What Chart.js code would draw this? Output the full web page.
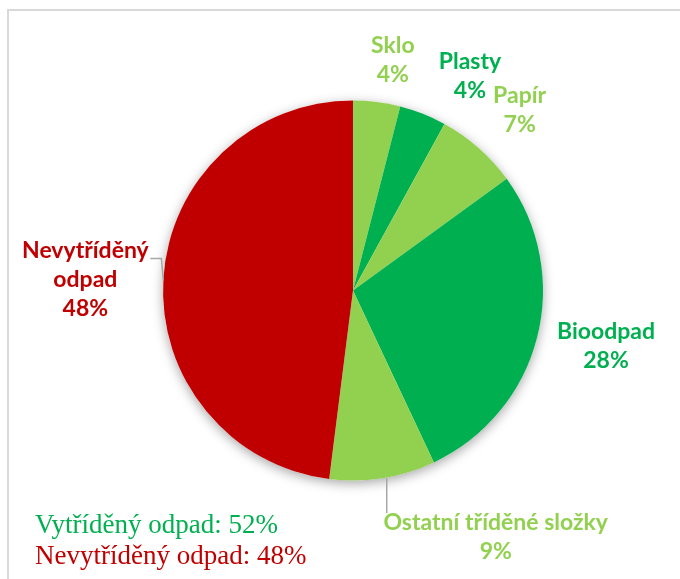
<!DOCTYPE html>
<html>
<head>
<meta charset="utf-8">
<script src="https://cdn.jsdelivr.net/npm/chart.js@4/dist/chart.umd.min.js"></script>
<style>
  html, body { margin: 0; padding: 0; background: #ffffff; }
  #wrap { position: relative; width: 680px; height: 579px; overflow: hidden; }
  #frame { position: absolute; left: 7px; top: 9px; width: 700px; height: 600px;
           border-left: 2px solid #d9d9d9; border-top: 2px solid #d9d9d9; box-sizing: border-box; }
  canvas { position: absolute; left: 0; top: 0; }
</style>
</head>
<body>
<div id="wrap">
  <div id="frame"></div>
  <canvas id="c" width="680" height="579"></canvas>
</div>
<script>
// ---- data ----
const categories = ['Sklo', 'Plasty', 'Papír', 'Bioodpad', 'Ostatní tříděné složky', 'Nevytříděný odpad'];
const shares = [4, 4, 7, 28, 9, 48];
const labelLines = [['Sklo'], ['Plasty'], ['Papír'], ['Bioodpad'], ['Ostatní tříděné složky'], ['Nevytříděný', 'odpad']];
const summaryLabels = ['Vytříděný odpad', 'Nevytříděný odpad'];
const summaryValues = [52, 48];

// ---- styles ----
const LIGHT = '#92D050', GREEN = '#00B050', RED = '#C00000';
const sliceColors = [LIGHT, GREEN, LIGHT, GREEN, LIGHT, RED];
const summaryColors = [GREEN, RED];
// label centre offsets from the outer mid-point of each slice
const labelOffsets = [[16, -42], [47, -38], [41, -38], [69, 8], [113, 59], [-78, 1]];
// leader polylines, offsets from the outer mid-point
const leaders = [null, null, null, null, [[4, 0], [4, 35]], [[0, 2], [-2, -20], [-13, -20]]];

const shadowPlugin = {
  id: 'pieShadow',
  beforeDatasetsDraw(chart) {
    const arc = chart.getDatasetMeta(0).data[0];
    if (!arc) return;
    const ctx = chart.ctx;
    ctx.save();
    ctx.shadowColor = 'rgba(0,0,0,0.35)';
    ctx.shadowBlur = 12;
    ctx.shadowOffsetY = 3;
    ctx.fillStyle = '#ffffff';
    ctx.beginPath();
    ctx.arc(arc.x, arc.y, arc.outerRadius, 0, Math.PI * 2);
    ctx.fill();
    ctx.restore();
  }
};

const labelPlugin = {
  id: 'sliceLabels',
  afterDatasetsDraw(chart) {
    const ctx = chart.ctx;
    const meta = chart.getDatasetMeta(0);
    const lineH = 29;
    ctx.save();
    meta.data.forEach((arc, i) => {
      const mid = (arc.startAngle + arc.endAngle) / 2;
      const ex = arc.x + Math.cos(mid) * arc.outerRadius;
      const ey = arc.y + Math.sin(mid) * arc.outerRadius;
      if (leaders[i]) {
        ctx.strokeStyle = '#a6a6a6';
        ctx.lineWidth = 1.5;
        ctx.beginPath();
        leaders[i].forEach((p, k) => {
          if (k === 0) ctx.moveTo(ex + p[0], ey + p[1]); else ctx.lineTo(ex + p[0], ey + p[1]);
        });
        ctx.stroke();
      }
      const lines = labelLines[i].concat([shares[i] + '%']);
      const cx = ex + labelOffsets[i][0];
      const cy = ey + labelOffsets[i][1];
      ctx.fillStyle = sliceColors[i];
      ctx.font = 'bold 23px Lato';
      ctx.textAlign = 'center';
      ctx.textBaseline = 'middle';
      const top = cy - (lines.length - 1) * lineH / 2;
      lines.forEach((t, k) => ctx.fillText(t, cx, top + k * lineH));
    });
    // summary text
    ctx.textAlign = 'left';
    ctx.textBaseline = 'alphabetic';
    ctx.font = '27px "Liberation Serif"';
    summaryLabels.forEach((t, k) => {
      ctx.fillStyle = summaryColors[k];
      ctx.fillText(t + ': ' + summaryValues[k] + '%', 35, 533 + k * 31);
    });
    ctx.restore();
  }
};

new Chart(document.getElementById('c'), {
  type: 'pie',
  data: {
    labels: categories,
    datasets: [{
      data: shares,
      backgroundColor: sliceColors,
      borderWidth: 0,
      hoverOffset: 0
    }]
  },
  options: {
    responsive: false,
    animation: false,
    events: [],
    layout: { padding: { left: 163, top: 100, right: 137, bottom: 98 } },
    plugins: { legend: { display: false }, tooltip: { enabled: false } }
  },
  plugins: [shadowPlugin, labelPlugin]
});
</script>
</body>
</html>
